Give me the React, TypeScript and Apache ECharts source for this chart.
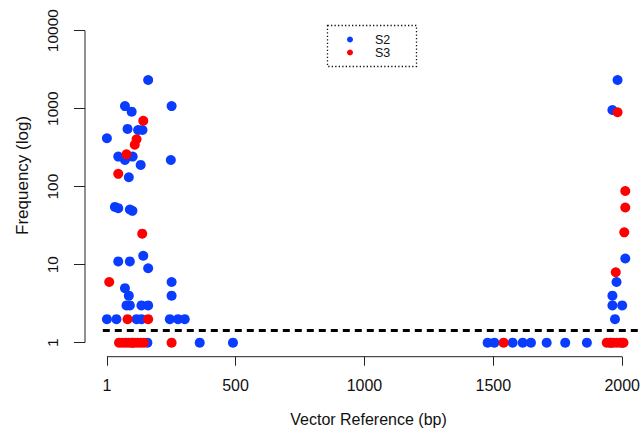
import React, { useEffect, useRef } from 'react';
import * as echarts from 'echarts';

// S2 (blue) positions (bp) and frequencies
const s2Pos = [
  161, 71, 97, 252, 81, 122, 139, 1, 45, 71, 101, 132, 249, 86,
  32, 45, 90, 100, 142, 45, 90, 161, 252, 252, 71, 86, 77, 90, 135, 161,
  1, 38, 116, 135, 245, 277, 303, 100, 158, 361, 490,
  1982, 1962, 2012, 1978, 1962, 1962, 2000, 1972,
  1478, 1504, 1575, 1614, 1646, 1707, 1779, 1863, 1956, 2001,
];
const s2Freq = [
  2330, 1080, 915, 1080, 550, 533, 533, 418, 243, 220, 243, 190, 220, 132,
  55, 53, 51, 49, 13, 11, 11, 9, 6, 4, 5, 4, 3, 3, 3, 3,
  2, 2, 2, 2, 2, 2, 2, 1, 1, 1, 1,
  2330, 962, 12, 6, 4, 3, 3, 2,
  1, 1, 1, 1, 1, 1, 1, 1, 1, 1,
];

// S3 (red) positions (bp) and frequencies
const s3Pos = [
  142, 116, 109, 77, 45, 138, 10, 81, 161,
  48, 60, 72, 84, 96, 108, 120, 132, 144, 252, 1540,
  1982, 2012, 2012, 2008, 1975,
  1940, 1952, 1965, 1978, 1992, 2005,
];
const s3Freq = [
  700, 405, 345, 260, 146, 25, 6, 2, 2,
  1, 1, 1, 1, 1, 1, 1, 1, 1, 1, 1,
  900, 88, 54, 26, 8,
  1, 1, 1, 1, 1, 1,
];

const xTickValues = [1, 500, 1000, 1500, 2000];
const yTickValues = [1, 10, 100, 1000, 10000];
const thresholdFreq = 1.43;
const thresholdStart = -15;

export default function App() {
  const ref = useRef<HTMLDivElement>(null);
  useEffect(() => {
    const chart = echarts.init(ref.current!, null, { renderer: 'svg' });
    const lg = (v: number) => Math.log10(v);
    const xMin = -84;
    const xMax = 2077;
    const yMin = -0.18;
    const yMax = 4.16;
    const font = 'Liberation Sans, Arial, sans-serif';
    const axisColor = '#222';
    const yTickLog = yTickValues.map(lg);

    chart.setOption({
      animation: false,
      backgroundColor: '#fff',
      grid: { left: 85, right: 0, top: 18.2, bottom: 78.3, containLabel: false },
      legend: {
        data: ['S2', 'S3'],
        orient: 'vertical',
        left: 344,
        top: 25,
        padding: [8, 30, 9, 3],
        itemGap: 0,
        itemWidth: 6,
        itemHeight: 6,
        icon: 'circle',
        selectedMode: false,
        textStyle: {
          fontSize: 12.5,
          lineHeight: 12.4,
          color: '#111',
          fontFamily: font,
          padding: [0, 0, 0, 17],
        },
      },
      graphic: [
        {
          type: 'rect',
          shape: { x: 327.5, y: 25.5, width: 89, height: 41 },
          style: { fill: 'none', stroke: '#111', lineWidth: 1.3, lineDash: [1.3, 2.2] },
          silent: true,
        },
      ],
      xAxis: {
        type: 'value',
        min: xMin,
        max: xMax,
        axisLine: { show: false, onZero: false },
        splitLine: { show: false },
        axisTick: { show: true, customValues: xTickValues, length: 9, lineStyle: { color: axisColor, width: 1 } },
        axisLabel: {
          customValues: xTickValues,
          margin: 21,
          fontSize: 16,
          color: '#111',
          fontFamily: font,
          formatter: (v: number) => String(v),
        },
        name: 'Vector Reference (bp)',
        nameLocation: 'middle',
        nameGap: 55,
        nameTextStyle: { fontSize: 16, color: '#111', fontFamily: font, padding: [0, 0, 0, 10] },
      },
      yAxis: {
        type: 'value',
        min: yMin,
        max: yMax,
        axisLine: { show: false, onZero: false },
        splitLine: { show: false },
        axisTick: { show: true, customValues: yTickLog, length: 11, lineStyle: { color: axisColor, width: 1 } },
        axisLabel: {
          customValues: yTickLog,
          rotate: 90,
          margin: 25,
          fontSize: 15.5,
          color: '#111',
          fontFamily: font,
          formatter: (v: number) => String(Math.round(Math.pow(10, v))),
        },
        name: 'Frequency (log)',
        nameLocation: 'middle',
        nameGap: 54,
        nameTextStyle: { fontSize: 17, color: '#111', fontFamily: font, padding: [0, 0, 0, 24] },
      },
      series: [
        {
          name: 'S2',
          type: 'scatter',
          symbolSize: 10,
          itemStyle: { color: '#0a3cff', opacity: 1 },
          data: s2Pos.map((x, i) => [x, lg(s2Freq[i])]),
          clip: false,
          silent: true,
        },
        {
          name: 'S3',
          type: 'scatter',
          symbolSize: 10,
          itemStyle: { color: '#ff0000', opacity: 1 },
          data: s3Pos.map((x, i) => [x, lg(s3Freq[i])]),
          clip: false,
          silent: true,
        },
        {
          name: 'threshold',
          type: 'line',
          data: [[thresholdStart, lg(thresholdFreq)], [xMax, lg(thresholdFreq)]],
          symbol: 'none',
          lineStyle: { color: '#000', width: 3, type: [7, 5] },
          silent: true,
        },
        {
          name: 'xAxisLine',
          type: 'line',
          data: [[xTickValues[0], yMin], [xTickValues[xTickValues.length - 1], yMin]],
          symbol: 'none',
          lineStyle: { color: axisColor, width: 1 },
          clip: false,
          silent: true,
        },
        {
          name: 'yAxisLine',
          type: 'line',
          data: [[xMin, yTickLog[0]], [xMin, yTickLog[yTickLog.length - 1]]],
          symbol: 'none',
          lineStyle: { color: axisColor, width: 1 },
          clip: false,
          silent: true,
        },
      ],
    });
    return () => chart.dispose();
  }, []);
  return <div ref={ref} style={{ position: 'fixed', left: 0, top: 0, width: 643, height: 435 }} />;
}
